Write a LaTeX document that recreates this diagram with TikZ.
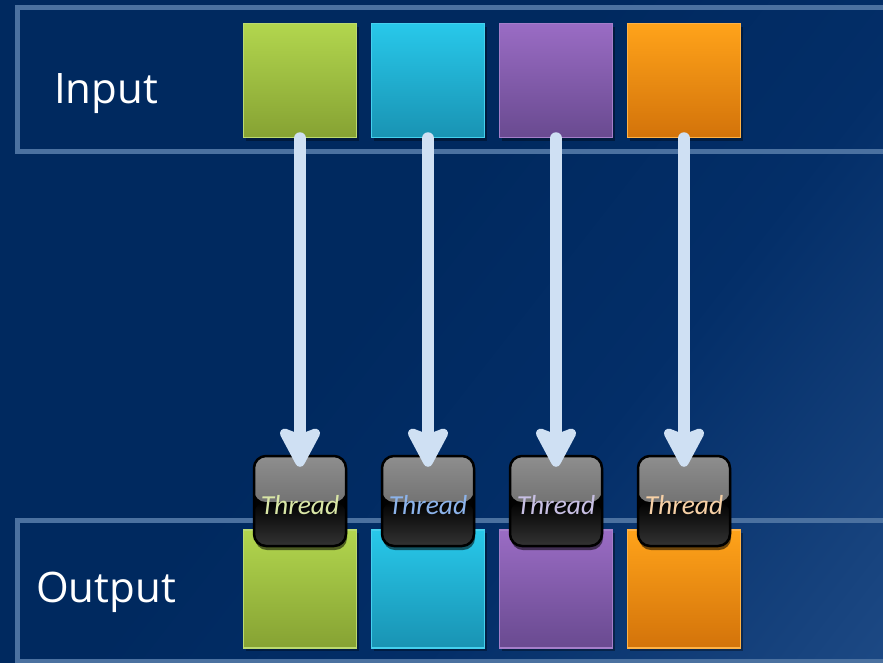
\documentclass[tikz,border=0pt]{standalone}
\usepackage{fontspec}
\setmainfont{Open Sans}
\newfontfamily\threadfont{Carlito}
\usetikzlibrary{arrows.meta,shadows}

\definecolor{bgdark}{HTML}{00295F}
\definecolor{bgmid}{HTML}{032E68}
\definecolor{bglight}{HTML}{2D5A96}
\definecolor{bandline}{HTML}{4B71A0}
\definecolor{arrowblue}{HTML}{CFE0F3}
\definecolor{greenT}{HTML}{B2D64E}\definecolor{greenB}{HTML}{86A233}\definecolor{greenE}{HTML}{BBDA70}
\definecolor{cyanT}{HTML}{28C8EA}\definecolor{cyanB}{HTML}{1993B3}\definecolor{cyanE}{HTML}{45D0EE}
\definecolor{purpT}{HTML}{9A6CC4}\definecolor{purpB}{HTML}{694A90}\definecolor{purpE}{HTML}{A47ECA}
\definecolor{orngT}{HTML}{FFA31A}\definecolor{orngB}{HTML}{D3730A}\definecolor{orngE}{HTML}{FFB246}
\definecolor{thrGreen}{HTML}{D9E6A6}
\definecolor{thrCyan}{HTML}{8CB3EA}
\definecolor{thrPurp}{HTML}{C7BFE3}
\definecolor{thrOrng}{HTML}{F6D0A6}
\definecolor{capTop}{HTML}{8E8E8E}
\definecolor{capMid}{HTML}{5A5A5A}
\definecolor{capLow}{HTML}{020202}
\definecolor{capBot}{HTML}{333333}

\pgfdeclarehorizontalshading{bgshade}{100bp}{%
  color(0bp)=(bgdark); color(45bp)=(bgdark); color(62bp)=(bgmid); color(100bp)=(bglight)}

\begin{document}
\begin{tikzpicture}[x=1pt,y=-1pt,
  band/.style={draw=bandline, line width=5pt},
  label/.style={text=white, font=\fontsize{42}{48}\selectfont, anchor=base west, inner sep=0pt},
  sq/.style={minimum width=113pt, minimum height=#1, inner sep=0pt, line width=1.5pt,
    drop shadow={shadow xshift=2pt, shadow yshift=-3pt, opacity=0.35, fill=black}},
  greensq/.style={sq=#1, top color=greenT, bottom color=greenB, draw=greenE},
  cyansq/.style={sq=#1, top color=cyanT, bottom color=cyanB, draw=cyanE},
  purpsq/.style={sq=#1, top color=purpT, bottom color=purpB, draw=purpE},
  orngsq/.style={sq=#1, top color=orngT, bottom color=orngB, draw=orngE},
  threadbox/.style={minimum width=92pt, minimum height=90pt, inner sep=0pt,
    text height=26pt, text depth=0pt,
    rounded corners=12pt, draw=black, line width=2.5pt, fill=capLow,
    font=\threadfont\itshape\fontsize{27.5}{30}\selectfont,
    drop shadow={shadow xshift=1pt, shadow yshift=-4pt, opacity=0.55, fill=black},
    path picture={
      \shade[top color=capTop, bottom color=capMid]
        (path picture bounding box.north west) rectangle ([yshift=-1pt]path picture bounding box.east);
      \shade[top color=capLow, bottom color=capBot]
        ([yshift=-1pt]path picture bounding box.west) rectangle (path picture bounding box.south east);
    }},
  flow/.style={draw=arrowblue, line width=12pt, line cap=round,
    -{Stealth[length=47pt, width=49pt, inset=9pt, round=false]}}
]
\useasboundingbox (0,0) rectangle (883,662);
\clip (0,0) rectangle (883,662);

% backdrop
\shade[shading=bgshade, shading angle=-38] (0,0) rectangle (883,662);

% input and output bands
\draw[band] (17.5,7.5) rectangle (900,151.5);
\draw[band] (17.5,520) rectangle (900,661);

\node[label] (inlabel) at (54,103) {Input};
\node[label] (outlabel) at (36,602) {Output};

% input blocks
\node[greensq=114pt] (in1) at (300,80.5) {};
\node[cyansq=114pt]  (in2) at (428,80.5) {};
\node[purpsq=114pt]  (in3) at (556,80.5) {};
\node[orngsq=114pt]  (in4) at (684,80.5) {};

% output blocks
\node[greensq=118pt] (out1) at (300,589) {};
\node[cyansq=118pt]  (out2) at (428,589) {};
\node[purpsq=118pt]  (out3) at (556,589) {};
\node[orngsq=118pt]  (out4) at (684,589) {};

% threads
\node[threadbox, text=thrGreen] (t1) at (300,501) {Thread};
\node[threadbox, text=thrCyan]  (t2) at (428,501) {Thread};
\node[threadbox, text=thrPurp]  (t3) at (556,501) {Thread};
\node[threadbox, text=thrOrng]  (t4) at (684,501) {Thread};

% data flow
\foreach \i in {1,...,4}
  \draw[flow] (in\i.south) -- ([yshift=-12pt]t\i.north);
\end{tikzpicture}
\end{document}
